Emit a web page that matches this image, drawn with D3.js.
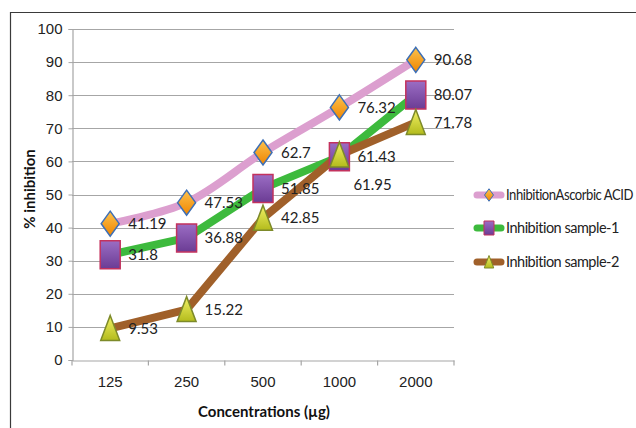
<!DOCTYPE html>
<html><head><meta charset="utf-8">
<script src="https://cdn.jsdelivr.net/npm/d3@7"></script>
<style>
body{margin:0;background:#fff;}
svg{display:block;font-family:Lato,"Liberation Sans",sans-serif;}
</style></head>
<body><svg id="c" width="636" height="428"></svg>
<script>
const categories = ["125","250","500","1000","2000"];
const ascorbic = [41.19, 47.53, 62.7, 76.32, 90.68];
const sample1 = [31.8, 36.88, 51.85, 61.43, 80.07];
const sample2 = [9.53, 15.22, 42.85, 61.95, 71.78];
const seriesNames = ["InhibitionAscorbic ACID", "Inhibition sample-1", "Inhibition sample-2"];
const yTicks = [0,10,20,30,40,50,60,70,80,90,100];

const svg = d3.select("#c");
const defs = svg.append("defs");
function grad(id, c1, c2){
  const g = defs.append("linearGradient").attr("id", id).attr("x1",0).attr("y1",0).attr("x2",0).attr("y2",1);
  g.append("stop").attr("offset","0%").attr("stop-color",c1);
  g.append("stop").attr("offset","100%").attr("stop-color",c2);
}
grad("gD", "#fcc24e", "#ef8500");
grad("gS", "#9b6dc4", "#6b3c94");
grad("gT", "#f2f266", "#b3bb1c");

// frame
svg.append("path").attr("d","M10.5,428 V12.5 H636").attr("fill","none").attr("stroke","#3a3a3a").attr("stroke-width",1.2);

const x = d3.scaleBand().domain(categories).range([72,454]);
const y = d3.scaleLinear().domain([0,100]).range([360,29]);

// gridlines
svg.append("g").selectAll("line").data(yTicks.filter(d=>d>0)).join("line")
  .attr("x1",72).attr("x2",454).attr("y1",d=>Math.round(y(d))+0.5).attr("y2",d=>Math.round(y(d))+0.5)
  .attr("stroke","#a6a6a6").attr("stroke-width",1.2);

// y axis
const ya = svg.append("g").attr("transform","translate(72.5,0)")
  .call(d3.axisLeft(y).tickValues(yTicks).tickSize(4).tickPadding(6));
ya.select(".domain").attr("stroke","#a6a6a6").attr("stroke-width",1.2);
ya.selectAll(".tick line").attr("stroke","#a6a6a6");
ya.selectAll("text").attr("font-size",15).attr("fill","#222").attr("font-family",null);

// x axis
const xa = svg.append("g").attr("transform","translate(0,360.5)")
  .call(d3.axisBottom(x).tickSize(0).tickPadding(16));
xa.select(".domain").attr("stroke","#a6a6a6").attr("stroke-width",1.2);
xa.selectAll("text").attr("font-size",15).attr("fill","#222").attr("font-family",null);
xa.append("g").selectAll("line").data(d3.range(categories.length+1)).join("line")
  .attr("x1",i=>72+i*x.step()).attr("x2",i=>72+i*x.step()).attr("y1",0).attr("y2",5)
  .attr("stroke","#a6a6a6").attr("stroke-width",1.2);

// axis titles
svg.append("text").attr("x",264).attr("y",417).attr("text-anchor","middle")
  .attr("font-size",15).attr("font-weight","bold").attr("fill","#111").text("Concentrations (µg)");
svg.append("text").attr("transform","translate(35,189) rotate(-90)").attr("text-anchor","middle")
  .attr("font-size",15).attr("font-weight","bold").attr("fill","#111").text("% inhibition");

const cx = c => x(c) + x.bandwidth()/2;
const series = [
  {name:seriesNames[0], values:ascorbic, color:"#dc9fcf", marker:"diamond", curve:d3.curveCatmullRom},
  {name:seriesNames[1], values:sample1, color:"#3dba3d", marker:"square", curve:d3.curveLinear},
  {name:seriesNames[2], values:sample2, color:"#a0602a", marker:"triangle", curve:d3.curveLinear}
];

function markerPath(type, s){
  const w = 9*s, h = 12.5*s;
  if(type==="diamond") return `M0,${-h} L${w},0 L0,${h} L${-w},0 Z`;
  if(type==="square") return `M${-10*s},${-14*s} H${10*s} V${14*s} H${-10*s} Z`;
  return `M0,${-13*s} L${9.5*s},${12*s} L${-9.5*s},${12*s} Z`;
}
const mStyle = {
  diamond:{fill:"url(#gD)", stroke:"#3d6fb6"},
  square:{fill:"url(#gS)", stroke:"#c3325e"},
  triangle:{fill:"url(#gT)", stroke:"#7d8a2a"}
};

const line = d3.line().x((d,i)=>cx(categories[i])).y(d=>y(d));
series.forEach(s=>{
  svg.append("path").datum(s.values).attr("d", line.curve(s.curve))
    .attr("fill","none").attr("stroke",s.color).attr("stroke-width",8).attr("stroke-linejoin","round").attr("stroke-linecap","round");
});
series.forEach(s=>{
  svg.append("g").selectAll("path").data(s.values).join("path")
    .attr("transform",(d,i)=>`translate(${cx(categories[i])},${y(d)})`)
    .attr("d", markerPath(s.marker,1))
    .attr("fill",mStyle[s.marker].fill).attr("stroke",mStyle[s.marker].stroke).attr("stroke-width",1.5);
});
// data labels
series.forEach((s,si)=>{
  svg.append("g").selectAll("text").data(s.values).join("text")
    .attr("x",(d,i)=>cx(categories[i]) + ((si===2 && i===3)?14:18))
    .attr("y",(d,i)=>y(d) + ((si===2 && i===3)?30:0))
    .attr("dy","0.35em").attr("font-size",15).attr("fill","#222")
    .text(d=>d);
});

// legend
const lg = svg.append("g");
const ly = [195, 228, 262];
const maxW = 636 - 506 - 3;
series.forEach((s,i)=>{
  const g = lg.append("g").attr("transform",`translate(0,${ly[i]})`);
  g.append("line").attr("x1",477).attr("x2",501).attr("stroke",s.color).attr("stroke-width",7).attr("stroke-linecap","round");
  g.append("path").attr("transform","translate(489,0)").attr("d",markerPath(s.marker,0.5))
    .attr("fill",mStyle[s.marker].fill).attr("stroke",mStyle[s.marker].stroke).attr("stroke-width",1);
  const t = g.append("text").attr("transform","translate(506,0)").attr("dy","0.35em")
    .attr("font-size",14.5).attr("letter-spacing",-0.5).attr("fill","#222").text(s.name);
  const w = t.node().getComputedTextLength();
  if (w > maxW) t.attr("transform",`translate(506,0) scale(${maxW / w},1)`);
});
</script></body></html>
